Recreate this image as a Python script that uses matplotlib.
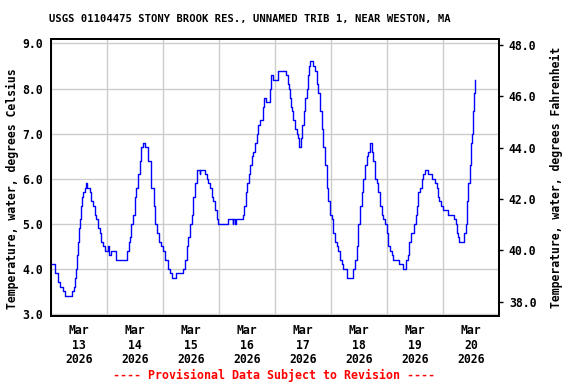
import numpy as np
import matplotlib
matplotlib.use('Agg')
import matplotlib.pyplot as plt
import matplotlib.dates as mdates
import datetime as dt

# hours after 2026-03-13 00:00 and water temperature (deg C)
hours = [0.0, 1.6, 3.0, 3.9, 5.1, 5.9, 8.7, 9.0, 9.9, 10.4, 10.8, 11.3, 11.7, 12.0,
         12.6, 13.0, 13.4, 13.8, 14.4, 15.2, 15.5, 16.2, 16.7, 17.3, 18.0, 18.7, 19.4,
         20.1, 20.9, 21.6, 22.3, 23.0, 23.7, 24.4, 24.9, 25.6, 27.0, 28.0, 32.3, 32.7,
         33.3, 34.0, 34.4, 35.1, 35.9, 36.6, 37.3, 38.0, 38.6, 39.4, 40.3, 41.6, 43.0,
         44.1, 44.7, 45.6, 46.3, 47.3, 48.0, 48.9, 50.1, 51.0, 51.7, 53.6, 56.0, 56.6,
         57.4, 58.2, 58.8, 59.6, 60.3, 61.0, 61.7, 62.4, 63.7, 64.0, 65.3, 66.0, 66.7,
         67.4, 68.1, 68.9, 69.6, 70.3, 71.0, 71.4, 76.0, 77.8, 78.1, 78.9, 79.2, 82.2,
         82.4, 82.8, 83.6, 84.1, 84.9, 85.3, 86.0, 86.7, 87.4, 88.2, 88.8, 89.6, 91.0,
         91.4, 92.1, 93.9, 94.3, 95.0, 97.2, 100.7, 101.4, 102.0, 102.4, 102.9, 103.4,
         103.8, 104.6, 105.3, 105.7, 106.4, 107.1, 107.7, 108.4, 109.0, 109.6, 110.3,
         110.7, 111.0, 112.4, 113.1, 113.9, 114.6, 115.3, 116.0, 116.7, 117.4, 118.2,
         118.8, 119.6, 120.3, 121.0, 121.7, 122.4, 123.1, 123.9, 124.6, 125.3, 126.7,
         129.6, 130.3, 131.0, 131.7, 132.4, 133.2, 133.8, 134.6, 135.3, 136.0, 136.7,
         137.4, 138.1, 138.9, 139.6, 140.3, 141.0, 141.7, 142.4, 143.1, 143.9, 144.6,
         145.3, 146.0, 146.7, 148.9, 151.0, 152.1, 152.9, 153.6, 154.1, 155.6, 156.3,
         156.7, 157.4, 158.1, 158.9, 159.6, 160.3, 161.7, 163.2, 164.6, 165.3, 165.7,
         166.4, 167.1, 167.9, 170.0, 172.7, 173.4, 174.1, 174.6, 175.0, 177.1, 177.7,
         178.3, 178.8, 179.4, 180.0, 180.4, 180.9, 181.3, 181.7]
temps = [4.1, 3.9, 3.7, 3.6, 3.5, 3.4, 3.4, 3.5, 3.6, 3.8, 4.0, 4.3, 4.6, 4.9,
         5.1, 5.4, 5.6, 5.7, 5.8, 5.9, 5.8, 5.8, 5.7, 5.5, 5.4, 5.2, 5.1,
         4.9, 4.8, 4.6, 4.5, 4.4, 4.4, 4.5, 4.3, 4.4, 4.4, 4.2, 4.2, 4.4,
         4.6, 4.7, 5.0, 5.2, 5.6, 5.8, 6.1, 6.4, 6.7, 6.8, 6.7, 6.4, 5.8,
         5.4, 5.0, 4.8, 4.6, 4.5, 4.4, 4.2, 4.0, 3.9, 3.8, 3.9, 3.9, 4.0,
         4.2, 4.5, 4.7, 5.0, 5.2, 5.6, 5.9, 6.2, 6.1, 6.2, 6.2, 6.1, 6.0,
         5.9, 5.8, 5.6, 5.5, 5.3, 5.1, 5.0, 5.1, 5.0, 5.1, 5.0, 5.1, 5.1,
         5.2, 5.4, 5.7, 5.9, 6.1, 6.3, 6.5, 6.6, 6.8, 7.0, 7.2, 7.3, 7.6,
         7.8, 7.7, 8.0, 8.3, 8.2, 8.4, 8.3, 8.1, 8.0, 7.8, 7.6, 7.5,
         7.3, 7.1, 7.0, 6.9, 6.7, 6.9, 7.2, 7.5, 7.8, 8.0, 8.3,
         8.5, 8.6, 8.5, 8.4, 8.1, 7.9, 7.5, 7.1, 6.7, 6.3, 5.8,
         5.5, 5.2, 5.1, 4.8, 4.6, 4.5, 4.4, 4.2, 4.1, 4.0, 3.8,
         4.0, 4.2, 4.5, 5.0, 5.4, 5.7, 6.0, 6.3, 6.5, 6.6, 6.8,
         6.6, 6.4, 6.0, 5.9, 5.7, 5.4, 5.2, 5.1, 5.0, 4.8, 4.5,
         4.4, 4.3, 4.2, 4.1, 4.0, 4.2, 4.3, 4.6, 4.8, 5.0, 5.2,
         5.4, 5.7, 5.8, 6.0, 6.1, 6.2, 6.1, 6.0, 5.9, 5.8, 5.6,
         5.5, 5.4, 5.3, 5.2, 5.1, 5.0, 4.8, 4.7, 4.6, 4.8, 5.0,
         5.5, 5.9, 6.3, 6.8, 7.0, 7.5, 7.9, 8.2]

c_ticks = [3.0, 4.0, 5.0, 6.0, 7.0, 8.0, 9.0]
f_ticks = [38.0, 40.0, 42.0, 44.0, 46.0, 48.0]
title = 'USGS 01104475 STONY BROOK RES., UNNAMED TRIB 1, NEAR WESTON, MA'

start = dt.datetime(2026, 3, 13)
times = [start + dt.timedelta(hours=h) for h in hours]

font = 'DejaVu Sans Mono'
fig = plt.figure(figsize=(5.76, 3.84), dpi=100)
ax = fig.add_axes([0.0885, 0.177, 0.778, 0.721])

ax.plot(times, temps, color='#0000ff', lw=1.0, drawstyle='steps-post', zorder=3)

ax.set_xlim(start, start + dt.timedelta(days=8))
ax.set_ylim(2.956, 9.095)
ax.set_yticks(c_ticks)
ax.set_yticklabels(['%.1f' % v for v in c_ticks], fontfamily=font, fontweight='bold', fontsize=8.3)

# grid at midnight, date labels at noon
midnights = [start + dt.timedelta(days=d) for d in range(9)]
ax.set_xticks(midnights)
ax.set_xticklabels([])
noons = [start + dt.timedelta(days=d, hours=12) for d in range(8)]
ax.set_xticks(noons, minor=True)
ax.set_xticklabels([t.strftime('%b\n%d\n%Y') for t in noons], minor=True,
                   fontfamily=font, fontweight='bold', fontsize=8.3, linespacing=1.15)
ax.tick_params(axis='x', which='both', length=0, pad=6)
ax.tick_params(axis='y', length=0, pad=6)
ax.grid(True, which='major', color='#cccccc', lw=1.0, zorder=0)

for s in ax.spines.values():
    s.set_linewidth(1.3)
    s.set_color('black')

ax.set_ylabel('Temperature, water, degrees Celsius', fontfamily=font, fontweight='bold',
              fontsize=8.3, labelpad=3)
ax.yaxis.set_label_coords(-0.072, 0.46)

ax2 = ax.twinx()
ax2.set_ylim(37.443, 48.234)
ax2.set_yticks(f_ticks)
ax2.set_yticklabels(['%.1f' % v for v in f_ticks], fontfamily=font, fontweight='bold', fontsize=8.3)
ax2.tick_params(axis='y', length=3, width=1, pad=4)
ax2.set_ylabel('Temperature, water, degrees Fahrenheit', fontfamily=font, fontweight='bold',
               fontsize=8.3, labelpad=10)
for s in ax2.spines.values():
    s.set_linewidth(1.3)

fig.text(0.434, 0.950, title, ha='center', va='center', fontfamily=font,
         fontweight='bold', fontsize=7.6)
fig.text(0.475, 0.022, '---- Provisional Data Subject to Revision ----', ha='center',
         va='center', color='#ff0000', fontfamily=font, fontweight='bold', fontsize=8.4)

fig.savefig('out.png', dpi=100)
